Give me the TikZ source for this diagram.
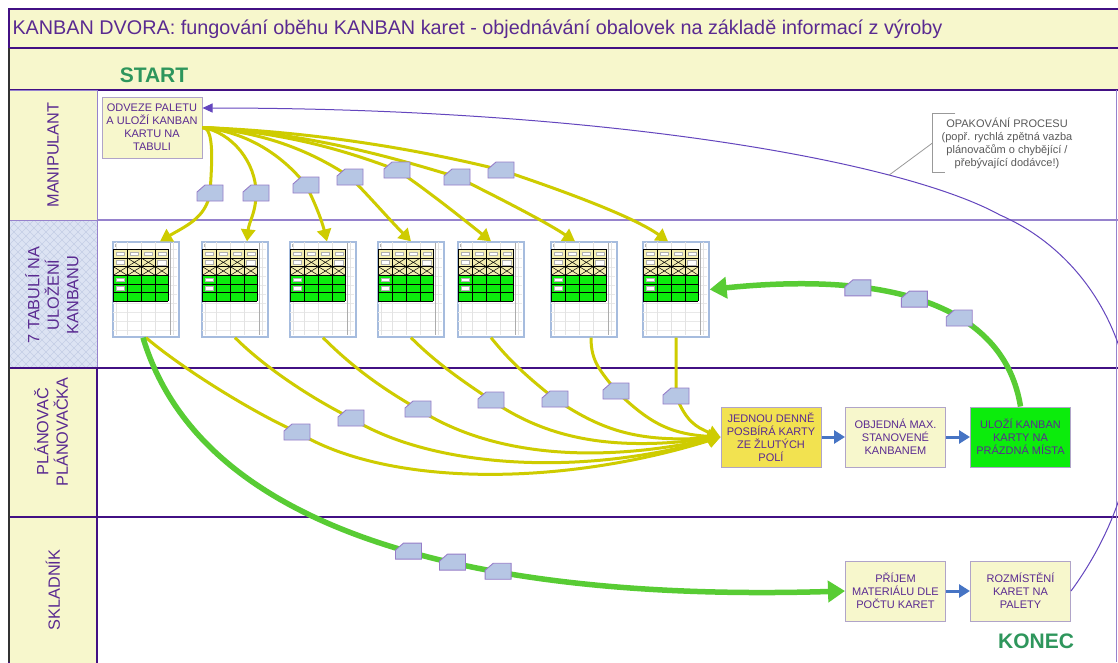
\documentclass[tikz,border=0pt]{standalone}
\usepackage{fontspec}
\setmainfont{Liberation Sans}
\usetikzlibrary{arrows.meta,calc}

\definecolor{svetlezluta}{RGB}{247,247,204}
\definecolor{tmavafialova}{RGB}{66,16,132}
\definecolor{fialova}{RGB}{150,130,205}
\definecolor{textfial}{RGB}{90,42,145}
\definecolor{krivka}{RGB}{100,70,190}
\definecolor{zlutasipka}{RGB}{206,204,0}
\definecolor{zelenasipka}{RGB}{88,204,52}
\definecolor{modrasipka}{RGB}{70,116,196}
\definecolor{kartamodra}{RGB}{182,198,228}
\definecolor{kartaokraj}{RGB}{150,125,200}
\definecolor{tabuleokraj}{RGB}{166,188,222}
\definecolor{startzelena}{RGB}{46,150,92}
\definecolor{boxzluta}{RGB}{242,226,80}
\definecolor{boxzelena}{RGB}{12,236,12}
\definecolor{tabzluta}{RGB}{244,238,176}
\definecolor{krizmodra}{RGB}{220,227,243}
\definecolor{krizcara}{RGB}{196,206,230}
\definecolor{okrajboxu}{RGB}{176,164,200}

\begin{document}
\begin{tikzpicture}[x=1pt,y=-1pt,
  krok/.style={draw=okrajboxu,line width=1pt,fill=svetlezluta,text=textfial,align=center,
    minimum width=100pt,minimum height=60pt,inner sep=1pt,font=\fontsize{11}{13}\selectfont},
  tabule/.style={draw=tabuleokraj,line width=1.3pt,fill=white,minimum width=66pt,minimum height=95pt,inner sep=0pt},
  drahaname/.style={rotate=90,align=center,text=textfial,font=\fontsize{16.3}{19.5}\selectfont},
  zluta/.style={draw=zlutasipka,line width=3pt,-{Triangle[length=12pt,width=14pt]}},
  zelena/.style={draw=zelenasipka,line width=5.5pt,-{Triangle[length=17pt,width=21pt]}},
  modra/.style={draw=modrasipka,line width=3pt,-{Triangle[length=11pt,width=13pt]}},
  karta/.pic={\draw[fill=kartamodra,draw=kartaokraj,line width=.9pt]
    (-13,8)--(-13,-1)--(-5,-8)--(13,-8)--(13,8)--cycle;}]
\useasboundingbox (0,0) rectangle (1118,662);
\fill[white] (0,0) rectangle (1118,662);

% nadpis a start
\draw[fill=svetlezluta,draw=tmavafialova,line width=2.5pt] (9,9) rectangle (1135,48);
\node[anchor=west,text=textfial,font=\fontsize{19.8}{22}\selectfont] (nadpis) at (9,29)
  {KANBAN DVORA: fungování oběhu KANBAN karet - objednávání obalovek na základě informací z výroby};
\draw[fill=svetlezluta,draw=tmavafialova,line width=2.5pt] (9,48) rectangle (1135,90);
\node[text=startzelena,font=\fontsize{21}{24}\selectfont\bfseries] (start) at (154,75) {START};

% drahy
\draw[fill=svetlezluta,draw=fialova,line width=.8pt] (9,90) rectangle (97,220);
\begin{scope}
  \clip (9,220) rectangle (97,368);
  \fill[krizmodra] (9,220) rectangle (97,368);
  \foreach \i in {-150,-142,...,250}{
    \draw[krizcara,line width=.5pt] (\i,220)--++(150,150);
    \draw[krizcara,line width=.5pt] (\i,220)--++(-150,150);}
\end{scope}
\draw[draw=fialova,line width=.8pt] (9,220) rectangle (97,368);
\draw[fill=svetlezluta,draw=tmavafialova,line width=2.5pt] (9,368) rectangle (97,517);
\draw[fill=svetlezluta,draw=tmavafialova,line width=2.5pt] (9,517) rectangle (97,670);
\draw[fialova,line width=1.4pt] (97,220)--(1118,220);
\draw[tmavafialova,line width=2.8pt] (9,368)--(1118,368);
\draw[tmavafialova,line width=2.8pt] (9,517)--(1118,517);
\draw[fialova,line width=.8pt] (1116,90)--(1116,662);
\draw[black!80,line width=2pt] (9,48)--(9,662);

\node[drahaname] (manipulant) at (53,155) {MANIPULANT};
\node[drahaname] (tabulelbl) at (52,295) {7 TABULÍ NA\\ULOŽENÍ\\KANBANU};
\node[drahaname] (planovac) at (51,432) {PLÁNOVAČ\\PLÁNOVAČKA};
\node[drahaname] (skladnik) at (53,590) {SKLADNÍK};

% kroky procesu
\node[krok,minimum height=61pt] (odveze) at (152,127.5) {ODVEZE PALETU\\A ULOŽÍ KANBAN\\KARTU NA\\TABULI};
\node[krok,fill=boxzluta] (posbira) at (771,437) {JEDNOU DENNĚ\\POSBÍRÁ KARTY\\ZE ŽLUTÝCH\\POLÍ};
\node[krok] (objedna) at (895.5,437) {OBJEDNÁ MAX.\\STANOVENÉ\\KANBANEM};
\node[krok,fill=boxzelena] (ulozi) at (1020.5,437) {ULOŽÍ KANBAN\\KARTY NA\\PRÁZDNÁ MÍSTA};
\node[krok] (prijem) at (895.5,591) {PŘÍJEM\\MATERIÁLU DLE\\POČTU KARET};
\node[krok] (rozmisteni) at (1020.5,591) {ROZMÍSTĚNÍ\\KARET NA\\PALETY};
\node[text=startzelena,font=\fontsize{21}{24}\selectfont\bfseries] (konec) at (1036,641) {KONEC};

% tabule
\foreach \t/\x in {b1/146,b2/235,b3/323,b4/411,b5/491,b6/584,b7/676}
  \node[tabule] (\t) at (\x,289.5) {};
\foreach \t in {b1,b2,b3,b4,b5,b6,b7}{
  \begin{scope}[shift={(\t.north west)}]
    \foreach \y in {8,17,...,90} \draw[gray!18,line width=.4pt] (1,\y)--(65,\y);
    \foreach \x in {4,15,29,43,61} \draw[gray!22,line width=.4pt] (\x,1)--(\x,94);
    \draw[gray!65,line width=.9pt] (58,2)--(58,94);
    \draw[gray!60,line width=.5pt] (3,3)--(3,6);
    \fill[tabzluta] (1,8) rectangle (56,34);
    \fill[boxzelena] (1,34) rectangle (56,60);
    \foreach \xa/\ya/\xb/\yb in {15/16.7/29/25.3,29/16.7/43/25.3,1/25.3/15/34,15/25.3/29/34,29/25.3/43/34,43/25.3/56/34}
      \draw[black,line width=.5pt] (\xa,\ya)--(\xb,\yb) (\xa,\yb)--(\xb,\ya);
    \foreach \x in {4,18,32,46} \filldraw[fill=white,draw=gray!60,line width=.3pt] (\x,10.5) rectangle ++(8,3.5);
    \foreach \y in {19,36.5,45.2} \filldraw[fill=white,draw=gray!60,line width=.3pt] (4,\y) rectangle ++(8,3.5);
    \filldraw[fill=white,draw=gray!60,line width=.3pt] (45,18.5) rectangle ++(9,5);
    \foreach \x in {1,15,29,43,56} \draw[black,line width=.6pt] (\x,8)--(\x,60);
    \foreach \y in {8,16.7,25.3,34,42.7,51.3,60} \draw[black,line width=.6pt] (1,\y)--(56,\y);
  \end{scope}}

% karty na sipkach
\coordinate (k1) at (210,193);
\coordinate (k2) at (256,193);
\coordinate (k3) at (306,185);
\coordinate (k4) at (350,177);
\coordinate (k5) at (397,170);
\coordinate (k6) at (457,177);
\coordinate (k7) at (501,170);
\coordinate (d1) at (297,432);
\coordinate (d2) at (351,418);
\coordinate (d3) at (418,409);
\coordinate (d4) at (491,400);
\coordinate (d5) at (555,399);
\coordinate (d6) at (616,391);
\coordinate (d7) at (676,396);

% manipulant -> tabule
\draw[zluta] (odveze.east) .. controls +(12,0) and +(2,-30) .. (k1) .. controls +(-4,25) and +(25,-15) .. ([xshift=14pt]b1.north);
\draw[zluta] (odveze.east) .. controls +(30,5) and +(0,-30) .. (k2) .. controls +(0,20) and +(2,-20) .. ([xshift=12pt]b2.north);
\draw[zluta] (odveze.east) .. controls +(50,5) and +(-20,-25) .. (k3) .. controls +(10,20) and +(-5,-20) .. ([xshift=4pt]b3.north);
\draw[zluta] (odveze.east) .. controls +(70,5) and +(-30,-20) .. (k4) .. controls +(20,20) and +(-20,-20) .. (b4.north);
\draw[zluta] (odveze.east) .. controls +(90,5) and +(-40,-15) .. (k5) .. controls +(30,20) and +(-25,-20) .. (b5.north);
\draw[zluta] (odveze.east) .. controls +(110,5) and +(-50,-15) .. (k6) .. controls +(40,20) and +(-30,-20) .. ([xshift=-9pt]b6.north);
\draw[zluta] (odveze.east) .. controls +(130,5) and +(-60,-15) .. (k7) .. controls +(60,20) and +(-35,-25) .. ([xshift=-8pt]b7.north);

% tabule -> planovac
\draw[zluta] (b1.south) .. controls +(35,30) and +(-45,-20) .. (d1) .. controls +(90,55) and +(-160,50) .. (posbira.west);
\draw[zluta] (b2.south) .. controls +(30,30) and +(-40,-20) .. (d2) .. controls +(80,50) and +(-140,40) .. (posbira.west);
\draw[zluta] (b3.south) .. controls +(30,30) and +(-35,-20) .. (d3) .. controls +(70,45) and +(-130,28) .. (posbira.west);
\draw[zluta] (b4.south) .. controls +(25,25) and +(-30,-20) .. (d4) .. controls +(55,38) and +(-110,15) .. (posbira.west);
\draw[zluta] (b5.south) .. controls +(20,25) and +(-25,-20) .. (d5) .. controls +(45,30) and +(-85,6) .. (posbira.west);
\draw[zluta] ([xshift=7pt]b6.south) .. controls +(0,25) and +(-15,-20) .. (d6) .. controls +(30,28) and +(-55,-3) .. (posbira.west);
\draw[zluta] (b7.south) .. controls +(0,25) and +(0,-20) .. (d7) .. controls +(10,25) and +(-25,-10) .. (posbira.west);

% zelene sipky
\draw[zelena] ([xshift=-3pt]b1.south) .. controls (210,560) and (550,600) .. (prijem.west)
  coordinate[pos=.5] (g1) coordinate[pos=.555] (g2) coordinate[pos=.61] (g3);
\draw[zelena] (ulozi.north) .. controls (1005,310) and (900,270) .. (b7.east)
  coordinate[pos=.4] (h3) coordinate[pos=.55] (h2) coordinate[pos=.7] (h1);

% modre sipky
\draw[modra] (posbira) -- (objedna);
\draw[modra] (objedna) -- (ulozi);
\draw[modra] (prijem) -- (rozmisteni);

% karty
\foreach \k in {k1,k2,k3,k4,k5,k6,k7,d1,d2,d3,d4,d5,d6,d7,g1,g2,g3,h1,h2,h3}
  \pic at (\k) {karta};

% opakovani procesu
\draw[krivka,line width=1pt,-{Triangle[length=10pt,width=9pt]}] (rozmisteni.east)
  .. controls (1105,545) and (1134,480) .. (1132,420)
  .. controls (1130,330) and (1080,250) .. (1000,215)
  .. controls (900,160) and (600,108) .. ([yshift=19.5pt]odveze.east)
  coordinate[pos=.25] (navrat);
\node[text=black!65,align=center,inner xsep=9pt,inner ysep=4pt,font=\fontsize{11}{13}\selectfont] (opakovani) at (1007,143)
  {OPAKOVÁNÍ PROCESU\\(popř. rychlá zpětná vazba\\plánovačům o chybějící /\\přebývající dodávce!)};
\draw[black!40,line width=.8pt] ([xshift=23pt]opakovani.north west) -- (opakovani.north west) -- (opakovani.south west) -- ++(13,0);
\draw[black!40,line width=.8pt] (opakovani.west) -- (navrat);
\end{tikzpicture}
\end{document}
